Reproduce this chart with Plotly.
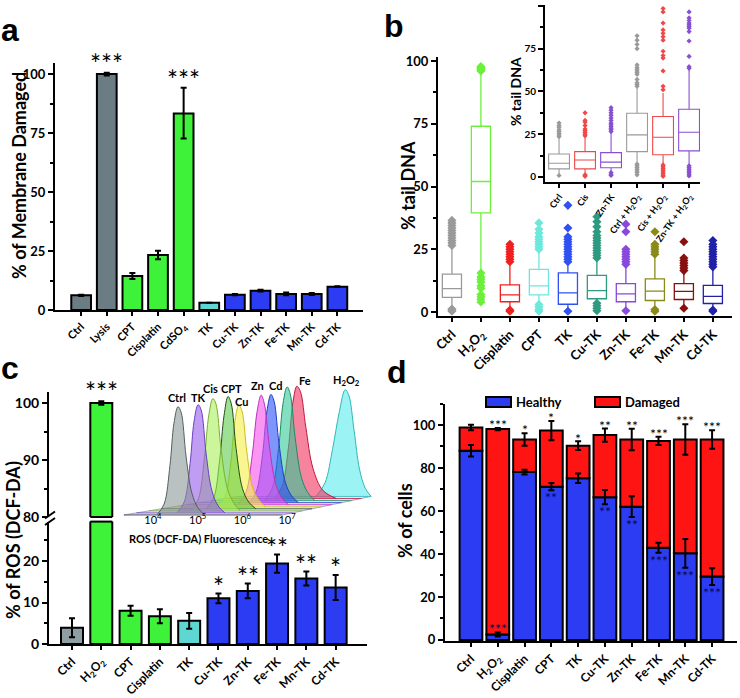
import plotly.graph_objects as go

W, H = 740, 698
FONT = "Lato"
LFONT = "Liberation Sans"

# ===================== DATA =====================
# (a) membrane damage
a_categories = ["Ctrl", "Lysis", "CPT", "Cisplatin", "CdSO<sub>4</sub>", "TK",
                "Cu-TK", "Zn-TK", "Fe-TK", "Mn-TK", "Cd-TK"]
a_values = [6.2, 100.0, 14.4, 23.3, 83.3, 3.1, 6.5, 8.2, 6.8, 6.8, 9.9]
a_err_up = [0.3, 0.6, 1.3, 1.8, 10.9, 0.0, 0.3, 0.4, 0.6, 0.4, 0.2]
a_err_down = [0.3, 0.6, 1.3, 1.8, 10.6, 0.0, 0.3, 0.4, 0.6, 0.4, 0.2]
a_stars = ["", "***", "", "", "***", "", "", "", "", "", ""]

# (b) comet assay, % tail DNA
b_categories = ["Ctrl", "H<sub>2</sub>O<sub>2</sub>", "Cisplatin", "CPT", "TK",
                "Cu-TK", "Zn-TK", "Fe-TK", "Mn-TK", "Cd-TK"]
b_q1 = [5.8, 39.5, 4.1, 6.8, 3.1, 5.3, 4.1, 4.6, 5.0, 3.4]
b_median = [9.3, 52.0, 6.8, 10.4, 7.6, 8.5, 7.2, 8.3, 8.2, 6.2]
b_q3 = [15.1, 74.0, 10.8, 17.0, 15.6, 14.6, 11.3, 13.2, 11.3, 10.6]
b_low = [1.5, 16.5, 1.5, 4.0, 0.8, 4.1, 1.0, 1.5, 2.5, 1.0]
b_high = [26.0, 95.5, 19.5, 24.5, 19.5, 21.0, 18.5, 22.5, 16.0, 17.5]
b_outliers = [
    [26.5, 27.5, 28.5, 29.5, 30.5, 31.5, 32.5, 33.5, 34.5, 35.5, 36.5, 0.3, 0.8, 1.2],
    [96.0, 96.5, 97.0, 97.5, 97.8, 15.5, 14.0, 13.0, 12.0, 10.5, 9.5, 7.0, 6.0, 5.0, 4.0],
    [20.0, 21.0, 22.0, 23.0, 24.0, 25.0, 26.0, 27.0, 0.3, 0.8],
    [25.0, 26.0, 27.0, 28.0, 29.0, 30.0, 31.5, 33.0, 35.5, 0.3, 1.0, 2.0, 3.0],
    [20.0, 21.0, 22.0, 23.0, 24.0, 25.0, 26.0, 27.0, 28.0, 29.0, 30.0, 33.5, 42.5, 0.3],
    [21.5, 22.5, 23.5, 24.5, 25.5, 26.5, 27.5, 28.5, 29.5, 30.5, 32.0, 34.0, 36.0, 38.0,
     0.5, 1.5, 2.5, 3.5],
    [19.0, 20.0, 21.0, 22.0, 23.0, 24.0, 25.0, 32.0, 35.0, 0.5],
    [23.0, 24.0, 25.0, 26.0, 27.0, 32.0, 0.3, 1.0],
    [16.5, 17.5, 18.5, 19.5, 20.5, 21.5, 28.0, 1.5],
    [18.0, 19.0, 20.0, 21.0, 22.0, 23.0, 24.0, 25.0, 26.0, 27.0, 28.5, 0.3, 0.8],
]

# (b) inset
bi_categories = ["Ctrl", "Cis", "Zn-TK", "Ctrl + H<sub>2</sub>O<sub>2</sub>",
                 "Cis + H<sub>2</sub>O<sub>2</sub>", "Zn-TK + H<sub>2</sub>O<sub>2</sub>"]
bi_q1 = [4.7, 4.7, 5.3, 14.8, 12.9, 15.2]
bi_median = [8.0, 9.9, 8.6, 24.6, 23.2, 26.1]
bi_q3 = [13.4, 14.8, 14.2, 37.2, 35.3, 39.6]
bi_low = [1.5, 1.5, 3.0, 8.0, 8.0, 7.0]
bi_high = [22.5, 23.0, 26.0, 52.0, 49.0, 63.0]
bi_outliers = [
    [23.5, 24.5, 25.5, 26.5, 27.5, 29.0, 30.0, 31.5, 0.8],
    [24.0, 25.0, 26.0, 27.0, 28.0, 30.0, 32.0, 33.0, 37.5, 0.3, 0.8, 1.2],
    [26.5, 27.5, 28.5, 29.5, 30.5, 31.5, 33.0, 34.5, 36.0, 37.5, 39.0, 40.5, 0.8, 1.5, 2.5],
    [53.0, 54.0, 55.0, 57.0, 60.0, 61.0, 62.0, 63.0, 64.0, 65.5, 75.0, 77.5, 80.0, 82.5,
     1.2, 2.5, 3.5, 4.5, 5.5, 6.5, 7.5],
    [51.0, 53.0, 62.0, 69.5, 71.0, 73.5, 80.0, 82.0, 84.0, 86.0, 90.0, 96.5, 98.5,
     0.3, 1.0, 2.0, 3.0, 4.0, 5.0, 6.0, 7.0],
    [63.5, 64.5, 70.5, 79.5, 85.0, 87.0, 88.0, 89.0, 90.0, 91.5, 93.0, 96.5,
     0.5, 1.5, 2.5, 3.5, 4.5, 5.5, 6.5],
]

# (c) ROS
c_categories = ["Ctrl", "H<sub>2</sub>O<sub>2</sub>", "CPT", "Cisplatin", "TK",
                "Cu-TK", "Zn-TK", "Fe-TK", "Mn-TK", "Cd-TK"]
c_values = [3.9, 100.0, 8.0, 6.7, 5.6, 11.0, 12.8, 19.4, 15.8, 13.6]
c_errors = [2.3, 0.3, 1.2, 1.7, 1.9, 1.2, 1.8, 2.2, 1.7, 3.0]
c_stars = ["", "***", "", "", "", "*", "**", "**", "**", "*"]

# (c) inset: flow cytometry histograms (log10 fluorescence, relative counts)
h_labels = ["Ctrl", "TK", "Cis", "CPT", "Cu", "Zn", "Cd", "Mn", "Fe", "H<sub>2</sub>O<sub>2</sub>"]
h_x = [
    [4.09, 4.25, 4.38, 4.47, 4.56, 4.63, 4.74, 4.87, 5.01, 5.16],
    [4.54, 4.70, 4.83, 4.92, 5.01, 5.08, 5.19, 5.32, 5.46, 5.61],
    [4.86, 5.02, 5.15, 5.25, 5.34, 5.41, 5.52, 5.66, 5.80, 5.95],
    [5.20, 5.36, 5.49, 5.59, 5.68, 5.75, 5.86, 6.00, 6.14, 6.30],
    [5.45, 5.61, 5.74, 5.83, 5.92, 5.99, 6.10, 6.23, 6.37, 6.52],
    [5.90, 6.08, 6.22, 6.33, 6.42, 6.49, 6.60, 6.74, 6.88, 7.03],
    [6.15, 6.31, 6.45, 6.55, 6.64, 6.71, 6.82, 6.96, 7.10, 7.25],
    [6.50, 6.67, 6.81, 6.91, 7.00, 7.07, 7.18, 7.32, 7.46, 7.62],
    [6.72, 6.89, 7.03, 7.13, 7.22, 7.30, 7.42, 7.58, 7.80, 8.10],
    [7.65, 7.85, 8.02, 8.17, 8.30, 8.38, 8.50, 8.62, 8.75, 8.88],
]
h_y = [
    [0, 8, 36, 67, 79, 75, 43, 16, 5, 0],
    [0, 8, 36, 67, 79, 75, 43, 16, 5, 0],
    [0, 9, 38, 70, 82, 78, 46, 17, 6, 0],
    [0, 8, 35, 68, 82, 77, 44, 15, 5, 0],
    [0, 7, 32, 62, 74, 70, 40, 14, 5, 0],
    [0, 9, 36, 68, 80, 74, 44, 16, 5, 0],
    [0, 8, 35, 67, 79, 74, 43, 15, 5, 0],
    [0, 9, 38, 71, 83, 78, 46, 17, 6, 0],
    [0, 9, 37, 70, 82, 78, 52, 22, 6, 0],
    [0, 10, 35, 62, 78, 74, 48, 20, 6, 0],
]
h_tick_vals = [4, 5, 6, 7]
h_tick_text = ["10<sup>4</sup>", "10<sup>5</sup>", "10<sup>6</sup>", "10<sup>7</sup>"]

# (d) healthy / damaged cells
d_categories = ["Ctrl", "H<sub>2</sub>O<sub>2</sub>", "Cisplatin", "CPT", "TK",
                "Cu-TK", "Zn-TK", "Fe-TK", "Mn-TK", "Cd-TK"]
d_healthy = [88.0, 2.5, 78.1, 71.3, 75.2, 66.4, 62.0, 42.9, 40.3, 29.5]
d_healthy_err = [2.7, 0.9, 1.1, 1.7, 2.2, 3.3, 4.8, 2.3, 6.7, 3.9]
d_total = [98.8, 98.1, 93.3, 97.4, 90.4, 95.3, 93.3, 92.6, 93.3, 93.3]
d_total_err = [1.3, 0.5, 2.9, 4.5, 2.0, 3.1, 5.0, 1.9, 7.1, 4.3]
d_top_stars = ["", "***", "*", "*", "*", "**", "**", "***", "***", "***"]
d_bottom_stars = ["", "***", "", "**", "", "**", "**", "***", "***", "***"]

# ===================== STYLE =====================
GRAY_A = "#6c7c84"
GRAY_C = "#8e9ea2"
GREEN = "#3ef23a"
CYAN = "#5ed6d2"
BLUE = "#2b3cf2"
RED = "#ff1414"
a_colors = [GRAY_A, GRAY_A, GREEN, GREEN, GREEN, CYAN] + [BLUE] * 5
c_colors = [GRAY_C, GREEN, GREEN, GREEN, CYAN] + [BLUE] * 5
b_colors = ["#9a9a9a", "#6cf03a", "#f02020", "#6de8dc", "#3050f0",
            "#2e9a80", "#8a48dc", "#8a8a18", "#881010", "#2020a8"]
bi_colors = ["#9a9a9a", "#f04848", "#8850d0", "#9a9a9a", "#f04848", "#8850d0"]
h_fill = ["rgba(140,152,152,0.6)", "rgba(150,90,235,0.6)", "rgba(170,240,90,0.6)",
          "rgba(80,200,60,0.55)", "rgba(245,240,70,0.6)", "rgba(245,80,235,0.6)",
          "rgba(40,80,250,0.6)", "rgba(50,200,150,0.6)", "rgba(240,50,95,0.6)",
          "rgba(90,235,235,0.6)"]
h_line = ["#555f5f", "#6a40c0", "#7ab030", "#244d18", "#c8c020", "#c030b8",
          "#1f3cc8", "#1f8a64", "#c0183c", "#30b8b8"]
# label placement tweaks for the inset (anchor, x shift in decades, y gap)
h_label_anchor = ["right", "left", "right", "left", "center", "right", "left",
                  "center", "left", "center"]
h_label_dx = [0.22, -0.21, 0.16, -0.20, 0.05, 0.11, -0.09, 0.0, 0.0, 0.04]
h_label_dy = [0.5, -1, 1.5, 0, -3, 1, 0.3, 3, -2, 0]


def px(x):
    return x / W


def py(y):
    return 1 - y / H


def dom_x(left, right):
    return [left / W, right / W]


def dom_y(top, bottom):
    return [1 - bottom / H, 1 - top / H]


def tfont(size, bold=True):
    f = dict(family=FONT, size=size, color="black")
    if bold:
        f["weight"] = "bold"
    return f


def y_axis(anchor, domain, rng, dtick, minor, size=13):
    return dict(anchor=anchor, domain=domain, range=rng, showline=True, linecolor="black",
                linewidth=2, ticks="outside", ticklen=5, tickwidth=2, tickcolor="black",
                showgrid=False, zeroline=False, dtick=dtick, tick0=0, tickfont=tfont(size),
                automargin=False,
                minor=dict(dtick=minor, ticks="outside", ticklen=3, tickwidth=1.5,
                           tickcolor="black", showgrid=False))


def x_axis(anchor, domain, cats, rng, size=12, angle=-45):
    return dict(anchor=anchor, domain=domain, type="category", categoryorder="array",
                categoryarray=cats, range=rng, showline=True, linecolor="black", linewidth=2,
                ticks="outside", ticklen=4, tickwidth=1.5, tickcolor="black", showgrid=False,
                zeroline=False, tickangle=angle, tickfont=tfont(size), automargin=False)


fig = go.Figure()
ann = []
shapes = []
ERR = dict(color="black", thickness=2, width=3)

# ---------- (a) ----------
fig.add_trace(go.Bar(x=a_categories, y=a_values, xaxis="x", yaxis="y", width=0.77,
                     marker=dict(color=a_colors, line=dict(color="black", width=2)),
                     error_y=dict(type="data", symmetric=False, array=a_err_up,
                                  arrayminus=a_err_down, **ERR)))
for cat, v, e, s in zip(a_categories, a_values, a_err_up, a_stars):
    if s:
        ann.append(dict(x=cat, y=v + e + 3.5, xref="x", yref="y", text=s, showarrow=False,
                        xanchor="center", yanchor="middle",
                        font=dict(family=FONT, size=26, color="black")))

# ---------- (b) ----------
for i, cat in enumerate(b_categories):
    fig.add_trace(go.Box(x=[cat], q1=[b_q1[i]], median=[b_median[i]], q3=[b_q3[i]],
                         lowerfence=[b_low[i]], upperfence=[b_high[i]], xaxis="x2", yaxis="y2",
                         line=dict(color=b_colors[i], width=1.3),
                         fillcolor="rgba(255,255,255,0)", width=0.66, whiskerwidth=0,
                         boxpoints=False))
    fig.add_trace(go.Scatter(x=[cat] * len(b_outliers[i]), y=b_outliers[i], mode="markers",
                             xaxis="x2", yaxis="y2",
                             marker=dict(symbol="diamond", size=7, color=b_colors[i])))

for i, cat in enumerate(bi_categories):
    fig.add_trace(go.Box(x=[cat], q1=[bi_q1[i]], median=[bi_median[i]], q3=[bi_q3[i]],
                         lowerfence=[bi_low[i]], upperfence=[bi_high[i]], xaxis="x3", yaxis="y3",
                         line=dict(color=bi_colors[i], width=1.1),
                         fillcolor="rgba(255,255,255,0)", width=0.8, whiskerwidth=0,
                         boxpoints=False))
    fig.add_trace(go.Scatter(x=[cat] * len(bi_outliers[i]), y=bi_outliers[i], mode="markers",
                             xaxis="x3", yaxis="y3",
                             marker=dict(symbol="diamond", size=4, color=bi_colors[i])))

# ---------- (c) ----------
fig.add_trace(go.Bar(x=c_categories, y=c_values, xaxis="x4", yaxis="y4", width=0.75,
                     marker=dict(color=c_colors, line=dict(color="black", width=2)),
                     error_y=dict(type="data", array=c_errors, **ERR)))
fig.add_trace(go.Bar(x=c_categories, y=c_values, xaxis="x5", yaxis="y5", width=0.75,
                     marker=dict(color=c_colors, line=dict(color="black", width=2)),
                     error_y=dict(type="data", array=c_errors, **ERR)))
for cat, v, e, s in zip(c_categories, c_values, c_errors, c_stars):
    if not s:
        continue
    axis_pair = ("x5", "y5") if v > 50 else ("x4", "y4")
    ann.append(dict(x=cat, y=v + e + 1.6, xref=axis_pair[0], yref=axis_pair[1], text=s,
                    showarrow=False, xanchor="center", yanchor="middle",
                    font=dict(family=FONT, size=26, color="black")))

# break of the H2O2 bar and y-axis
shapes.append(dict(type="line", xref="x4", yref="paper", x0=0.625, x1=1.375,
                   y0=py(521.6), y1=py(521.6), line=dict(color="black", width=2)))
shapes.append(dict(type="line", xref="x5", yref="paper", x0=0.625, x1=1.375,
                   y0=py(517), y1=py(517), line=dict(color="black", width=2)))
shapes.append(dict(type="line", xref="paper", yref="paper", x0=px(45), x1=px(55),
                   y0=py(518.5), y1=py(511.5), line=dict(color="black", width=2)))
shapes.append(dict(type="line", xref="paper", yref="paper", x0=px(45), x1=px(55),
                   y0=py(525), y1=py(518), line=dict(color="black", width=2)))

# inset histograms (waterfall)
BASE0, BASE_STEP = 1.5, 1.5
n_h = len(h_labels)
floor_x = [3.35, 6.9, 6.9 + 0.22 * (n_h - 1), 3.35 + 0.28 * (n_h - 1), 3.35]
floor_y = [BASE0, BASE0, BASE0 + BASE_STEP * (n_h - 1), BASE0 + BASE_STEP * (n_h - 1), BASE0]
fig.add_trace(go.Scatter(x=floor_x, y=floor_y, xaxis="x6", yaxis="y6", mode="lines",
                         fill="toself", fillcolor="rgba(205,195,235,0.45)",
                         line=dict(color="rgba(120,110,170,0.6)", width=1)))
for i in reversed(range(n_h)):
    base = BASE0 + BASE_STEP * i
    fig.add_trace(go.Scatter(x=[3.35 + 0.28 * i, 6.9 + 0.22 * i], y=[base, base],
                             xaxis="x6", yaxis="y6", mode="lines",
                             line=dict(color=h_line[i], width=0.8)))
    fig.add_trace(go.Scatter(x=h_x[i], y=[base + v for v in h_y[i]], xaxis="x6", yaxis="y6",
                             mode="lines", fill="toself", fillcolor=h_fill[i],
                             line=dict(color=h_line[i], width=1, shape="spline")))
for i, lab in enumerate(h_labels):
    peak_idx = h_y[i].index(max(h_y[i]))
    ann.append(dict(x=h_x[i][peak_idx] + h_label_dx[i],
                    y=BASE0 + BASE_STEP * i + max(h_y[i]) + h_label_dy[i],
                    xref="x6", yref="y6", text=lab, showarrow=False, yanchor="bottom",
                    xanchor=h_label_anchor[i], font=tfont(11)))

# ---------- (d) ----------
d_damaged = [t - h for t, h in zip(d_total, d_healthy)]
fig.add_trace(go.Bar(x=d_categories, y=d_healthy, xaxis="x7", yaxis="y7", width=0.85,
                     marker=dict(color=BLUE, line=dict(color="black", width=2))))
fig.add_trace(go.Bar(x=d_categories, y=d_damaged, base=d_healthy, xaxis="x7", yaxis="y7",
                     width=0.85, marker=dict(color=RED, line=dict(color="black", width=2))))
fig.add_trace(go.Scatter(x=d_categories, y=d_healthy, xaxis="x7", yaxis="y7", mode="markers",
                         marker=dict(size=1, color="black"),
                         error_y=dict(type="data", array=d_healthy_err, **ERR)))
fig.add_trace(go.Scatter(x=d_categories, y=d_total, xaxis="x7", yaxis="y7", mode="markers",
                         marker=dict(size=1, color="black"),
                         error_y=dict(type="data", array=d_total_err, **ERR)))
for i, cat in enumerate(d_categories):
    if d_top_stars[i]:
        ann.append(dict(x=cat, y=d_total[i] + d_total_err[i] + 1.5, xref="x7", yref="y7",
                        text=d_top_stars[i], showarrow=False, xanchor="center",
                        yanchor="middle", font=dict(family=FONT, size=14, color="black")))
    if d_bottom_stars[i]:
        if d_healthy[i] < 10:
            yv = d_healthy[i] + d_healthy_err[i] + 2.0
        else:
            yv = d_healthy[i] - d_healthy_err[i] - 3.5
        ann.append(dict(x=cat, y=yv, xref="x7", yref="y7", text=d_bottom_stars[i],
                        showarrow=False, xanchor="center", yanchor="middle",
                        font=dict(family=FONT, size=14, color="#0a0a50")))

# legend for d
shapes.append(dict(type="rect", xref="paper", yref="paper", x0=px(486), x1=px(511),
                   y0=py(407), y1=py(397), fillcolor=BLUE, line=dict(color="black", width=2)))
shapes.append(dict(type="rect", xref="paper", yref="paper", x0=px(595), x1=px(620),
                   y0=py(407), y1=py(397), fillcolor=RED, line=dict(color="black", width=2)))
ann.append(dict(x=px(514), y=py(402), xref="paper", yref="paper", text="Healthy",
                showarrow=False, xanchor="left", yanchor="middle", font=tfont(13)))
ann.append(dict(x=px(623), y=py(402), xref="paper", yref="paper", text="Damaged",
                showarrow=False, xanchor="left", yanchor="middle", font=tfont(13)))

# ---------- titles & panel letters ----------
def vtitle(x, y, text, size):
    ann.append(dict(x=px(x), y=py(y), xref="paper", yref="paper", text=text, textangle=-90,
                    showarrow=False, xanchor="center", yanchor="middle", font=tfont(size)))


vtitle(19, 176, "% of Membrane Damaged", 18)
vtitle(408, 186, "% tail DNA", 18)
vtitle(516, 92, "% tail DNA", 14)
vtitle(13, 540, "% of ROS (DCF-DA)", 18)
vtitle(405, 520, "% of cells", 18)
ann.append(dict(x=px(198), y=py(538), xref="paper", yref="paper", xanchor="center",
                yanchor="middle", text="ROS (DCF-DA) Fluorescence", showarrow=False,
                font=tfont(11)))

for letter, x, y in [("a", 10, 30), ("b", 394, 26), ("c", 10, 368), ("d", 397, 372)]:
    ann.append(dict(x=px(x), y=py(y), xref="paper", yref="paper", text=letter,
                    showarrow=False, xanchor="center", yanchor="middle",
                    font=dict(family=LFONT, size=32, color="black", weight="bold")))

# ===================== LAYOUT =====================
layout = dict(
    width=W, height=H, margin=dict(l=0, r=0, t=0, b=0, pad=0, autoexpand=False),
    plot_bgcolor="white", paper_bgcolor="white", showlegend=False,
    barmode="overlay", boxmode="overlay",
    annotations=ann, shapes=shapes,
    # (a)
    xaxis=x_axis("y", dom_x(55, 363), a_categories, [-1.02, 11.0], size=11),
    yaxis=y_axis("x", dom_y(63, 310), [0, 104.7], 25, 12.5, size=13),
    # (b)
    xaxis2=x_axis("y2", dom_x(438, 732), b_categories, [-0.48, 9.66], size=13),
    yaxis2=y_axis("x2", dom_y(57.2, 315.8), [-1.5, 101.5], 25, 12.5, size=13),
    # (b) inset
    xaxis3=x_axis("y3", dom_x(545, 700), bi_categories, [-0.54, 5.42], size=9, angle=-55),
    yaxis3=y_axis("x3", dom_y(5.1, 182), [-3, 100.5], 25, 12.5, size=10),
    # (c) lower / upper
    xaxis4=x_axis("y4", dom_x(49, 367), c_categories, [-0.785, 10.07], size=12),
    yaxis4=y_axis("x4", dom_y(521.6, 644), [0, 29.5], 10, 5, size=14),
    xaxis5=dict(anchor="y5", domain=dom_x(49, 367), type="category", categoryorder="array",
                categoryarray=c_categories, range=[-0.785, 10.07], visible=False,
                automargin=False),
    yaxis5=y_axis("x5", dom_y(391.6, 517), [80, 102], 10, 5, size=14),
    # (c) inset
    xaxis6=dict(anchor="y6", domain=dom_x(123, 372), range=[3.33, 8.9], showline=False,
                showgrid=False, zeroline=False, ticks="", tickvals=h_tick_vals,
                ticktext=h_tick_text, tickfont=tfont(11, bold=False), automargin=False,
                ticklabelstandoff=-5),
    yaxis6=dict(anchor="x6", domain=dom_y(385, 517), range=[0, 96.4], visible=False,
                automargin=False),
    # (d)
    xaxis7=x_axis("y7", dom_x(445, 737), d_categories, [-0.97, 9.93], size=12),
    yaxis7=y_axis("x7", dom_y(403.5, 641), [-0.5, 110], 20, 10, size=13),
)
fig.update_layout(**layout)
fig.update_layout(yaxis7=dict(tickvals=[0, 20, 40, 60, 80, 100]))
fig.write_html("out.html", config={"displayModeBar": False},
               post_script="document.body.style.margin='0';document.body.style.padding='0';"
                           "document.body.style.overflow='hidden';")
